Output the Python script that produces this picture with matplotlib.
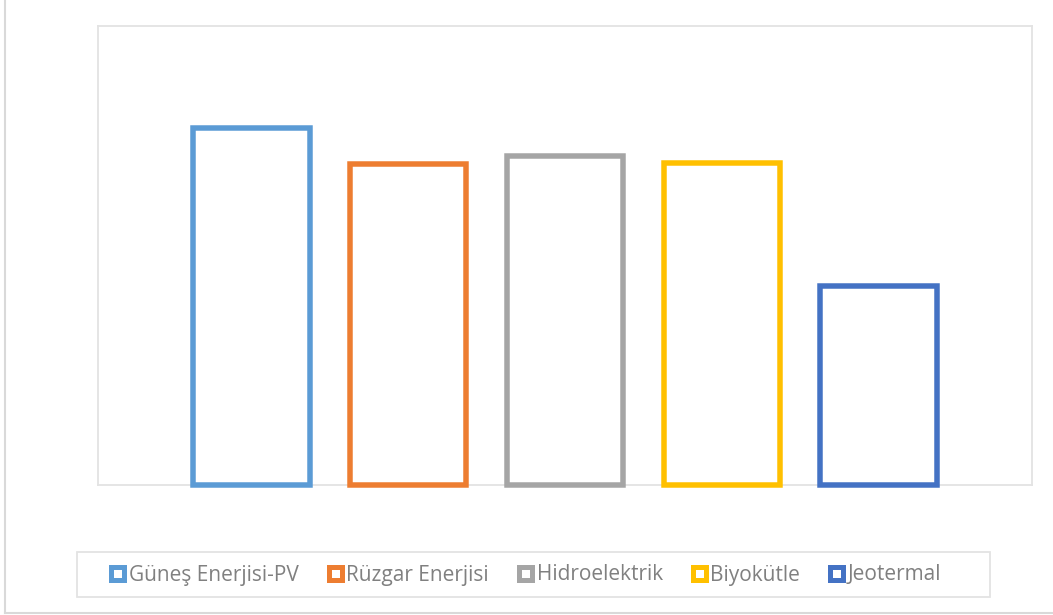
import matplotlib
matplotlib.use("Agg")
import matplotlib.pyplot as plt
from matplotlib.lines import Line2D
from matplotlib.patches import Rectangle

# Energy sources and their values
sources = ["Güneş Enerjisi-PV", "Rüzgar Enerjisi", "Hidroelektrik", "Biyokütle", "Jeotermal"]
values = [3.5, 3.15, 3.23, 3.16, 1.95]
colors = ["#5B9BD5", "#ED7D31", "#A5A5A5", "#FFC000", "#4472C4"]

W, H, DPI = 1053, 615, 100
fig = plt.figure(figsize=(W / DPI, H / DPI), dpi=DPI)
fig.patch.set_facecolor("white")

def px(x0, y0, x1, y1):
    """Convert a pixel box (top-left origin) to figure fraction [l, b, w, h]."""
    return [x0 / W, 1 - y1 / H, (x1 - x0) / W, (y1 - y0) / H]

# Plot area
ax = fig.add_axes(px(98, 26, 1032, 485))
ax.set_xlim(-0.98, len(values) - 1 + 0.98)
ax.set_ylim(0, 4.5)
ax.set_xticks([])
ax.set_yticks([])
for sp in ax.spines.values():
    sp.set_color("#E3E3E3")
    sp.set_linewidth(1.3)

lw_pt = 5.5 * 72 / DPI
bars = ax.bar(range(len(values)), values, width=0.742, facecolor="white",
              edgecolor=colors, linewidth=lw_pt, zorder=3)
for b in bars:
    b.set_clip_on(False)
    b.set_joinstyle("miter")

# Legend frame
fig.add_artist(Rectangle((77 / W, 1 - 597 / H), (990 - 77) / W, 45 / H,
                         transform=fig.transFigure, facecolor="none",
                         edgecolor="#E3E3E3", linewidth=1.3))

fs = 15
handles = [Line2D([], [], ls="", marker="s", markersize=13 * 72 / DPI,
                  markeredgewidth=5 * 72 / DPI, markerfacecolor="white",
                  markeredgecolor=c) for c in colors]
leg = fig.legend(handles, sources, loc="center left",
                 bbox_to_anchor=(108 / W, 1 - 575 / H), ncol=5, frameon=False,
                 handlelength=0.87, handletextpad=0.12,
                 columnspacing=1.3, borderpad=0, borderaxespad=0,
                 prop={"family": "Open Sans", "size": fs})
for t in leg.get_texts():
    t.set_color("#808080")

# Chart outer border
fig.add_artist(Line2D([5 / W, 5 / W], [1 - 613 / H, 1], transform=fig.transFigure,
                      color="#D9D9D9", linewidth=1.5))
fig.add_artist(Line2D([5 / W, 1], [1 - 613 / H, 1 - 613 / H], transform=fig.transFigure,
                      color="#D9D9D9", linewidth=1.5))

fig.savefig("out.png", dpi=DPI, facecolor="white")
